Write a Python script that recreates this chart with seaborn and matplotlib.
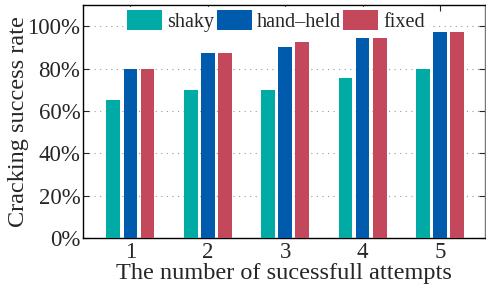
import pandas as pd
import matplotlib.pyplot as plt
import seaborn as sns

# ======== DATA ========
attempts = ["1", "2", "3", "4", "5"]
shaky = [65, 70, 70, 75.5, 80]
hand_held = [80, 87.5, 90, 94.5, 97.5]
fixed = [80, 87.5, 92.5, 94.5, 97.5]
series = ["shaky", "hand\u2013held", "fixed"]
colors = ["#00ABA6", "#005BAC", "#C4485B"]

df = pd.DataFrame({
    "attempt": attempts * 3,
    "rate": shaky + hand_held + fixed,
    "mode": [series[0]] * 5 + [series[1]] * 5 + [series[2]] * 5,
})

# ======== STYLE ========
sns.set_style("ticks")
plt.rcParams["font.family"] = ["Liberation Serif", "DejaVu Serif"]

fig = plt.figure(figsize=(4.86, 2.84), dpi=100)
ax = fig.add_axes([0.171, 0.162, 0.827, 0.820])

sns.barplot(data=df, x="attempt", y="rate", hue="mode", hue_order=series,
            palette=colors, width=0.66, gap=0.2, saturation=1,
            linewidth=0, ax=ax, zorder=3)

ax.set_ylim(0, 110)
ax.set_xlim(-0.61, 4.58)
ax.set_yticks([0, 20, 40, 60, 80, 100])
ax.set_yticklabels([f"{v}%" for v in [0, 20, 40, 60, 80, 100]], fontsize=16.5)
ax.set_xticks(range(5))
ax.set_xticklabels(attempts, fontsize=16.5)
ax.yaxis.grid(True, linestyle=(0, (1, 4)), color="#999999", linewidth=0.8, zorder=0)
ax.tick_params(direction="in", top=True, right=True, length=4, pad=2)
ax.tick_params(axis="x", pad=3)
for s in ax.spines.values():
    s.set_color("black")
    s.set_linewidth(1.0)
ax.spines["right"].set_color("#777777")

ax.set_xlabel("The number of sucessfull attempts", fontsize=17.5, labelpad=0)
ax.set_ylabel("Cracking success rate", fontsize=17.5, labelpad=-1)

leg = ax.legend(loc="upper center", bbox_to_anchor=(0.48, 1.0), ncol=3,
                fontsize=14.5, frameon=True, framealpha=1, edgecolor="white",
                handlelength=1.75, handleheight=1.15, handletextpad=0.25,
                columnspacing=0.1, borderpad=0.15, borderaxespad=0.1)
leg.set_zorder(5)

fig.savefig("out.png", dpi=100)
